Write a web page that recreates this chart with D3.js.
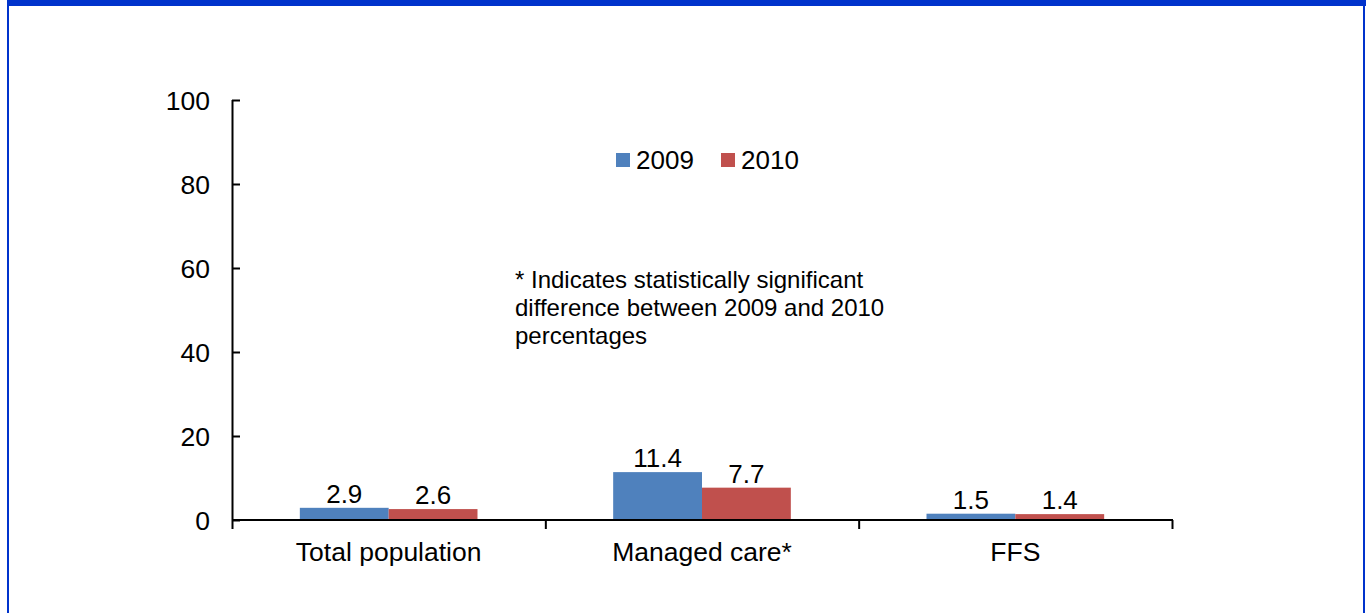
<!DOCTYPE html>
<html>
<head>
<meta charset="utf-8">
<script src="https://cdn.jsdelivr.net/npm/d3@7"></script>
<style>
  html, body { margin: 0; padding: 0; background: #fff; }
  svg { display: block; }
  text { font-family: "Liberation Sans", Arial, sans-serif; fill: #000; }
</style>
</head>
<body>
<svg id="chart" width="1366" height="613"></svg>
<script>
// Chart data
const categories = ["Total population", "Managed care*", "FFS"];
const seriesNames = ["2009", "2010"];
const values2009 = [2.9, 11.4, 1.5];
const values2010 = [2.6, 7.7, 1.4];
const yTicks = [0, 20, 40, 60, 80, 100];
const seriesColors = ["#4F81BD", "#C0504D"];
const noteLines = [
  "* Indicates statistically significant",
  "difference between 2009 and 2010",
  "percentages"
];

const svg = d3.select("#chart");

// Frame: thick top band with thin side rules
svg.append("rect").attr("x", 7).attr("y", 0).attr("width", 1359).attr("height", 6).attr("fill", "#0033CC");
svg.append("rect").attr("x", 7).attr("y", 0).attr("width", 2).attr("height", 613).attr("fill", "#0033CC");
svg.append("rect").attr("x", 1363).attr("y", 0).attr("width", 2).attr("height", 613).attr("fill", "#0033CC");

const plot = { left: 232, right: 1172, top: 100, bottom: 520 };

const x0 = d3.scaleBand()
  .domain(categories)
  .range([plot.left, plot.right])
  .paddingInner(0)
  .paddingOuter(0);

// bar group occupies the middle of each band (gap ≈ 150% of bar width)
const groupPad = 0.2165;
const x1 = d3.scaleBand()
  .domain(seriesNames)
  .range([x0.bandwidth() * groupPad, x0.bandwidth() * (1 - groupPad)])
  .padding(0);

const y = d3.scaleLinear().domain([0, 100]).range([plot.bottom, plot.top]);

const rows = categories.map((c, i) => ({
  category: c,
  values: [
    { series: "2009", value: values2009[i] },
    { series: "2010", value: values2010[i] }
  ]
}));

// Bars
const groups = svg.append("g").selectAll("g")
  .data(rows)
  .join("g")
  .attr("transform", d => `translate(${x0(d.category)},0)`);

groups.selectAll("rect")
  .data(d => d.values)
  .join("rect")
  .attr("x", d => x1(d.series))
  .attr("y", d => y(d.value))
  .attr("width", x1.bandwidth())
  .attr("height", d => y(0) - y(d.value))
  .attr("fill", (d, i) => seriesColors[i]);

// Value labels
groups.selectAll("text.val")
  .data(d => d.values)
  .join("text")
  .attr("class", "val")
  .attr("x", d => x1(d.series) + x1.bandwidth() / 2)
  .attr("y", d => y(d.value) - 5)
  .attr("text-anchor", "middle")
  .style("font-size", "26px")
  .text(d => d.value.toFixed(1));

// Y axis: ticks point inward
const yAxis = d3.axisRight(y).tickValues(yTicks).tickSize(8).tickFormat("");
const yg = svg.append("g").attr("transform", `translate(${plot.left},0)`).call(yAxis);
yg.select(".domain").attr("stroke", "#000").attr("stroke-width", 2).attr("d", `M0.5,${plot.top}V${plot.bottom}`);
yg.selectAll(".tick line").attr("stroke", "#000").attr("stroke-width", 2);

svg.append("g").selectAll("text")
  .data(yTicks)
  .join("text")
  .attr("x", 210)
  .attr("y", d => y(d))
  .attr("dy", "0.36em")
  .attr("text-anchor", "end")
  .style("font-size", "26.5px")
  .text(d => d);

// X axis: ticks at category boundaries
const boundaries = categories.map(c => x0(c)).concat([plot.right]);
const xLine = svg.append("g");
xLine.append("line")
  .attr("x1", plot.left).attr("x2", plot.right + 1)
  .attr("y1", y(0)).attr("y2", y(0))
  .attr("stroke", "#000").attr("stroke-width", 2);
xLine.selectAll("line.tk")
  .data(boundaries)
  .join("line")
  .attr("class", "tk")
  .attr("x1", d => d + 0.5).attr("x2", d => d + 0.5)
  .attr("y1", y(0)).attr("y2", y(0) + 9)
  .attr("stroke", "#000").attr("stroke-width", 2);

svg.append("g").selectAll("text")
  .data(categories)
  .join("text")
  .attr("x", d => x0(d) + x0.bandwidth() / 2)
  .attr("y", 561)
  .attr("text-anchor", "middle")
  .style("font-size", "26.5px")
  .text(d => d);

// Legend
const legendX = [616, 721];
const legend = svg.append("g").selectAll("g")
  .data(seriesNames)
  .join("g")
  .attr("transform", (d, i) => `translate(${legendX[i]},153)`);
legend.append("rect").attr("width", 14).attr("height", 14).attr("fill", (d, i) => seriesColors[i]);
legend.append("text").attr("x", 20).attr("y", 16).style("font-size", "26px").text(d => d);

// Note
svg.append("g").selectAll("text")
  .data(noteLines)
  .join("text")
  .attr("x", 515)
  .attr("y", (d, i) => 288 + i * 28)
  .style("font-size", "24px")
  .text(d => d);
</script>
</body>
</html>
